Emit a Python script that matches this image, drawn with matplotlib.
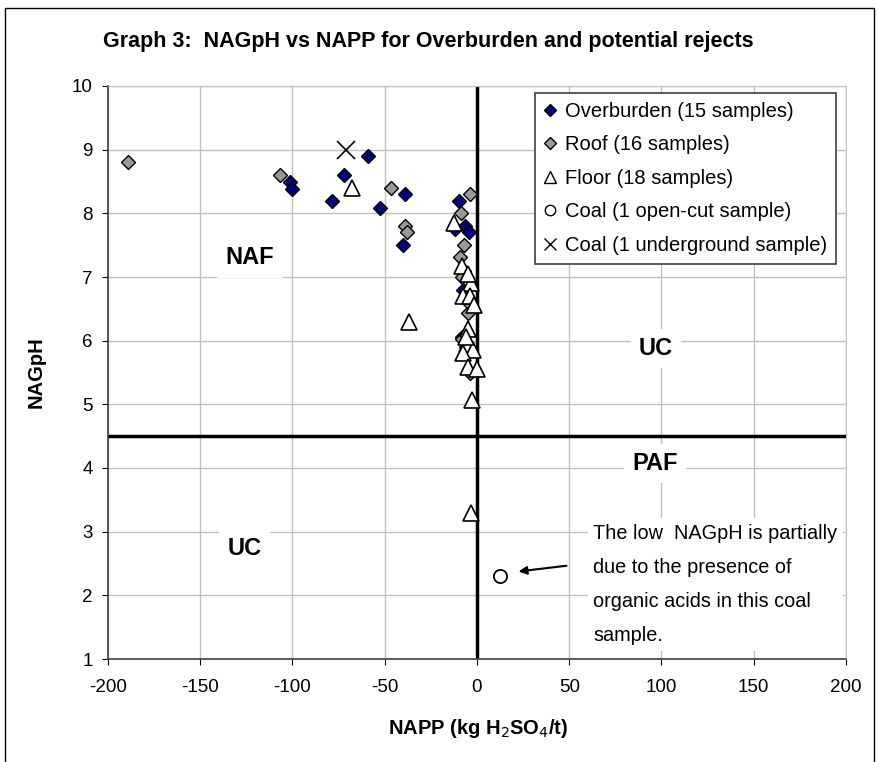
import matplotlib
matplotlib.use("Agg")
import matplotlib.pyplot as plt
from matplotlib.lines import Line2D

plt.rcParams['font.family'] = ['Liberation Sans', 'DejaVu Sans']
plt.rcParams['axes.unicode_minus'] = False

# data
ob_x = [-59, -101.4, -100, -72, -78.6, -39, -52.6, -40, -9.8, -6.5, -4.5, -7.4, -12, -8, -6]
ob_y = [8.9, 8.5, 8.39, 8.6, 8.19, 8.31, 8.09, 7.5, 8.19, 7.8, 7.7, 6.8, 7.75, 6.05, 5.9]

roof_x = [-189, -107, -46.4, -39, -38, -3.8, -8.8, -6.9, -9.2, -4.7, -8.3, -7, -5, -6, -4, -8]
roof_y = [8.8, 8.6, 8.4, 7.8, 7.71, 8.31, 8.0, 7.5, 7.31, 6.43, 6.03, 7.1, 6.6, 5.8, 5.5, 7.0]

floor_x = [-68, -37, -12.5, -8, -3.5, -7.4, -3.8, -1.6, -4.7, -5.6, -2, -7.4, -4.7, 0.2, -2.9, -3, -5, -6]
floor_y = [8.4, 6.3, 7.85, 7.17, 6.9, 6.7, 6.7, 6.56, 6.19, 5.95, 5.85, 5.8, 5.59, 5.56, 5.07, 3.3, 7.05, 6.05]

coal_oc_x = [12.5]
coal_oc_y = [2.31]
coal_ug_x = [-71]
coal_ug_y = [9.0]

xticks = [-200, -150, -100, -50, 0, 50, 100, 150, 200]
yticks = [1, 2, 3, 4, 5, 6, 7, 8, 9, 10]

fig = plt.figure(figsize=(8.79, 7.62), dpi=100)
ax = fig.add_axes([108/879, 1-659/762, (846-108)/879, (659-86)/762])

ax.set_xlim(-200, 200)
ax.set_ylim(1, 10)
ax.set_xticks(xticks)
ax.set_yticks(yticks)
ax.grid(True, color='#c0c0c0', lw=1)
ax.set_axisbelow(True)
for s in ['top', 'right']:
    ax.spines[s].set_color('#c0c0c0')
for s in ['left', 'bottom']:
    ax.spines[s].set_color('#404040')
    ax.spines[s].set_linewidth(1.2)
ax.tick_params(labelsize=13.5, direction='out', length=4)
ax.tick_params(axis='x', pad=10.5)
ax.tick_params(axis='y', pad=7)

ax.axvline(0, color='black', lw=2.5, zorder=2)
ax.axhline(4.5, color='black', lw=2.5, zorder=2)

ax.plot(ob_x, ob_y, 'D', ms=7.5, mfc='#000080', mec='black', mew=1, ls='none', zorder=4)
ax.plot(roof_x, roof_y, 'D', ms=7.5, mfc='#999999', mec='black', mew=1, ls='none', zorder=4)
ax.plot(floor_x, floor_y, '^', ms=11.5, mfc='white', mec='black', mew=1.2, ls='none', zorder=5)
ax.plot(coal_oc_x, coal_oc_y, 'o', ms=9.5, mfc='white', mec='black', mew=1.3, ls='none', zorder=5)
ax.plot(coal_ug_x, coal_ug_y, 'x', ms=13, mec='black', mew=1.2, ls='none', zorder=5)

box = dict(facecolor='white', edgecolor='none', pad=6)
ax.text(-123, 7.3, 'NAF', fontsize=17, fontweight='bold', ha='center', va='center', bbox=box, zorder=3)
ax.text(97, 5.88, 'UC', fontsize=17, fontweight='bold', ha='center', va='center', bbox=box, zorder=3)
ax.text(96.5, 4.07, 'PAF', fontsize=17, fontweight='bold', ha='center', va='center', bbox=box, zorder=3)
ax.text(-126, 2.74, 'UC', fontsize=17, fontweight='bold', ha='center', va='center', bbox=box, zorder=3)

ax.text(63, 3.12, 'The low  NAGpH is partially\ndue to the presence of\norganic acids in this coal\nsample.',
        fontsize=14.3, ha='left', va='top', linespacing=2.0,
        bbox=dict(facecolor='white', edgecolor='none', pad=4), zorder=3)
ax.annotate('', xy=(21, 2.37), xytext=(50, 2.47),
            arrowprops=dict(arrowstyle='-|>', color='black', lw=1.5, mutation_scale=12), zorder=6)

handles = [
    Line2D([], [], marker='D', ms=6.5, mfc='#000080', mec='black', ls='none'),
    Line2D([], [], marker='D', ms=6.5, mfc='#999999', mec='black', ls='none'),
    Line2D([], [], marker='^', ms=9, mfc='white', mec='black', ls='none'),
    Line2D([], [], marker='o', ms=7.5, mfc='white', mec='black', ls='none'),
    Line2D([], [], marker='x', ms=9, mec='black', ls='none'),
]
labels = ['Overburden (15 samples)', 'Roof (16 samples)', 'Floor (18 samples)',
          'Coal (1 open-cut sample)', 'Coal (1 underground sample)']
leg = ax.legend(handles, labels, loc='upper right', bbox_to_anchor=(0.987, 0.988), fontsize=14.5,
                frameon=True, fancybox=False, framealpha=1, edgecolor='#404040',
                handlelength=0.6, handletextpad=0.45, borderpad=0.45, labelspacing=0.72,
                borderaxespad=0)
leg.get_frame().set_linewidth(1.2)
leg.set_zorder(10)

fig.text(428/879, 1-42/762, 'Graph 3:  NAGpH vs NAPP for Overburden and potential rejects',
         fontsize=15.5, fontweight='bold', ha='center', va='center')
fig.text(478/879, 1-729/762, 'NAPP (kg H$_2$SO$_4$/t)', fontsize=14.5, fontweight='bold',
         ha='center', va='center')
fig.text(36/879, 1-372/762, 'NAGpH', fontsize=14.5, fontweight='bold', rotation=90,
         ha='center', va='center')

# outer border
fig.add_artist(Line2D([5/879, 5/879, 874/879, 874/879], [0, 1-8/762, 1-8/762, 0],
                      transform=fig.transFigure, color='black', lw=1))

fig.savefig('out.png', dpi=100)
